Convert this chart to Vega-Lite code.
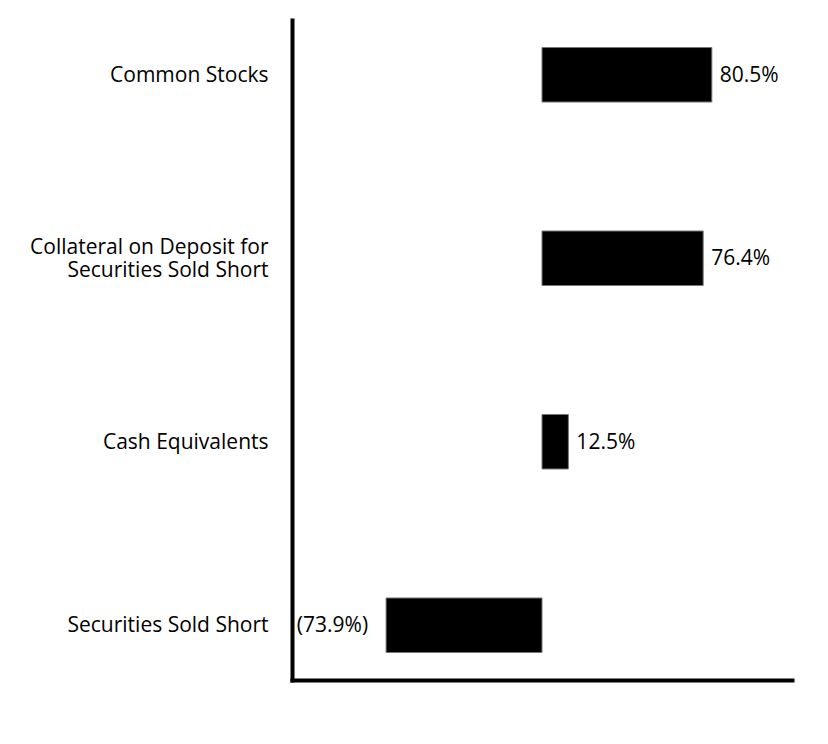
{
  "$schema": "https://vega.github.io/schema/vega-lite/v6.json",
  "width": 500,
  "height": 660,
  "autosize": "none",
  "padding": {"left": 292, "top": 20, "right": 36, "bottom": 64},
  "background": "white",
  "config": {"view": {"stroke": null}, "font": "Open Sans"},
  "data": {
    "values": [
      {"category": "Common Stocks", "value": 80.5, "label": "80.5%"},
      {"category": "Collateral on Deposit for Securities Sold Short", "value": 76.4, "label": "76.4%"},
      {"category": "Cash Equivalents", "value": 12.5, "label": "12.5%"},
      {"category": "Securities Sold Short", "value": -73.9, "label": "(73.9%)"}
    ]
  },
  "encoding": {
    "y": {
      "field": "category",
      "type": "nominal",
      "sort": null,
      "scale": {"paddingInner": 0.703, "paddingOuter": 0.15},
      "axis": {
        "title": null,
        "ticks": false,
        "domainColor": "black",
        "domainWidth": 4,
        "domainCap": "square",
        "labelFont": "Open Sans",
        "labelFontSize": 21,
        "labelColor": "black",
        "labelPadding": 24,
        "labelLimit": 400,
        "labelLineHeight": 23,
        "labelOffset": {"condition": {"test": "datum.value == 'Collateral on Deposit for Securities Sold Short'", "value": -10}, "value": 1},
        "labelExpr": "datum.label == 'Collateral on Deposit for Securities Sold Short' ? ['Collateral on Deposit for', 'Securities Sold Short'] : datum.label"
      }
    }
  },
  "layer": [
    {
      "mark": {"type": "bar", "color": "black", "stroke": "#777", "strokeWidth": 1},
      "encoding": {
        "x": {
          "field": "value",
          "type": "quantitative",
          "scale": {"domain": [-118.5, 118.5], "nice": false, "zero": false},
          "axis": {
            "title": null,
            "labels": false,
            "ticks": false,
            "grid": false,
            "domainColor": "black",
            "domainWidth": 4,
            "domainCap": "square"
          }
        }
      }
    },
    {
      "transform": [{"filter": "datum.value >= 0"}],
      "mark": {"type": "text", "align": "left", "baseline": "middle", "dx": 8, "dy": 1, "fontSize": 21, "font": "Open Sans", "color": "black"},
      "encoding": {
        "x": {"field": "value", "type": "quantitative"},
        "text": {"field": "label"}
      }
    },
    {
      "transform": [{"filter": "datum.value < 0"}],
      "mark": {"type": "text", "align": "right", "baseline": "middle", "dx": -18, "dy": 1, "fontSize": 21, "font": "Open Sans", "color": "black"},
      "encoding": {
        "x": {"field": "value", "type": "quantitative"},
        "text": {"field": "label"}
      }
    }
  ]
}
